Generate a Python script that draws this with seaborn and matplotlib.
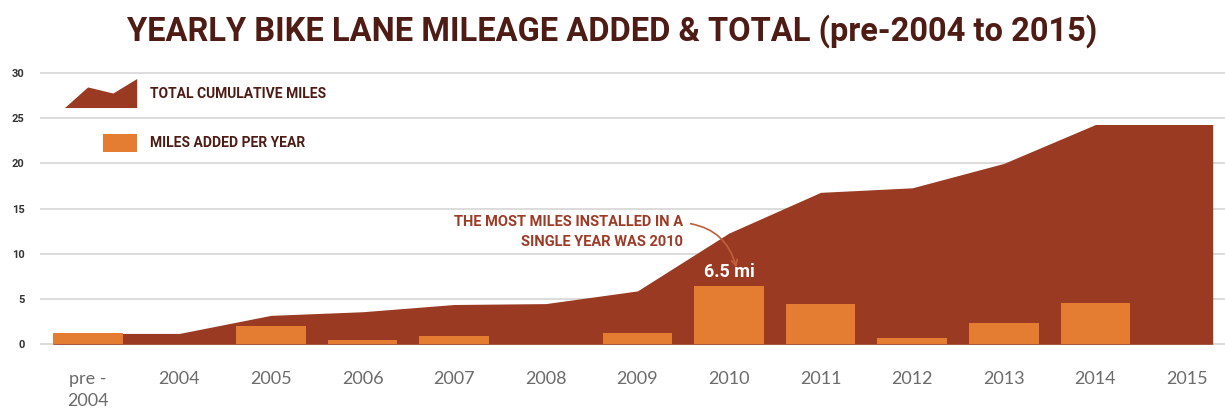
import numpy as np
import matplotlib
matplotlib.use("Agg")
import matplotlib.pyplot as plt
from matplotlib.patches import Polygon, Rectangle
from matplotlib.legend_handler import HandlerBase
import seaborn as sns

years = ["pre -\n2004", "2004", "2005", "2006", "2007", "2008", "2009",
         "2010", "2011", "2012", "2013", "2014", "2015"]
added = [1.2, 0.0, 2.0, 0.45, 0.95, 0.0, 1.3, 6.5, 4.5, 0.7, 2.4, 4.6, 0.0]
total = [1.2, 1.2, 3.2, 3.6, 4.4, 4.5, 5.9, 12.3, 16.8, 17.3, 20.0, 24.3, 24.3]
y_ticks = [0, 5, 10, 15, 20, 25, 30]

AREA = "#9b3a22"
BAR = "#e47d32"
DARK = "#4e1c14"
NOTE = "#9e3b27"
NARROW = ["Roboto", "DejaVu Sans"]


class MountainHandler(HandlerBase):
    def create_artists(self, legend, orig_handle, xd, yd, w, h, fs, trans):
        pts = [(0, 0), (0.32, 0.71), (0.67, 0.5), (1, 1), (1, 0)]
        poly = Polygon([(-xd + px * w, -yd + py * h) for px, py in pts],
                       closed=True, facecolor=AREA, edgecolor="none",
                       transform=trans)
        return [poly]


class SquareHandler(HandlerBase):
    def create_artists(self, legend, orig_handle, xd, yd, w, h, fs, trans):
        sw, sh = 0.47 * w, 0.62 * h
        rect = Rectangle((-xd + w - sw, -yd + (h - sh) / 2), sw, sh,
                         facecolor=BAR, edgecolor="none", transform=trans)
        return [rect]


def main():
    sns.set_style("white")
    fig = plt.figure(figsize=(12.25, 4.16), dpi=100)
    ax = fig.add_axes([0.0327, 0.168, 0.967, 0.661])

    pos = np.arange(len(years))
    # area reaches out to the edges of the first and last bars
    area_x = np.concatenate([[pos[0] - 0.38], pos, [pos[-1] + 0.28]])
    area_y = np.concatenate([[total[0]], total, [total[-1]]])
    ax.fill_between(area_x, 0, area_y, color=AREA, lw=0, zorder=2)

    sns.barplot(x=years, y=added, color=BAR, width=0.76, saturation=1,
                linewidth=0, edgecolor="none", ax=ax, zorder=3)

    for t in y_ticks:
        ax.axhline(t, color="#dcdcdc", lw=1.4, zorder=1)

    ax.set_xlim(-0.52, 12.41)
    ax.set_ylim(-0.2, 30.2)
    ax.set_yticks(y_ticks)
    sns.despine(ax=ax, left=True, bottom=True)
    ax.tick_params(axis="x", length=0, pad=18, labelsize=13, colors="#6b6b6b")
    ax.tick_params(axis="y", length=0, pad=11, labelsize=8, colors="#333333")
    for lab in ax.get_xticklabels():
        lab.set_family(["Lato", "DejaVu Sans"])
        lab.set_linespacing(1.45)
    for lab in ax.get_yticklabels():
        lab.set_family(NARROW)
        lab.set_fontweight("bold")

    peak = int(np.argmax(added))
    ax.text(pos[peak], added[peak] + 0.45, f"{added[peak]} mi", color="white",
            ha="center", va="bottom", fontsize=13, fontweight="bold",
            family=NARROW, zorder=4)
    ax.annotate("THE MOST MILES INSTALLED IN A\nSINGLE YEAR WAS 2010",
                xy=(pos[peak] + 0.08, added[peak] + 2.0), xytext=(6.5, 12.4),
                ha="right", va="center", multialignment="right",
                fontsize=10.5, fontweight="bold", family=NARROW, color=NOTE,
                linespacing=1.5, zorder=5,
                arrowprops=dict(arrowstyle="->", color="#c0603a", lw=1.2,
                                shrinkA=3, shrinkB=0, relpos=(1.0, 0.78),
                                connectionstyle="arc3,rad=-0.35"))

    handles = [Rectangle((0, 0), 1, 1), Rectangle((0, 0), 1, 1)]
    leg = ax.legend(handles, ["TOTAL CUMULATIVE MILES", "MILES ADDED PER YEAR"],
                    handler_map={handles[0]: MountainHandler(),
                                 handles[1]: SquareHandler()},
                    loc="upper left", bbox_to_anchor=(65 / 1225, 1 - 79 / 416),
                    bbox_transform=fig.transFigure, frameon=False,
                    fontsize=10, handlelength=5.2, handleheight=2.84,
                    handletextpad=0.94, labelspacing=1.47, borderpad=0,
                    borderaxespad=0)
    for txt in leg.get_texts():
        txt.set_color(DARK)
        txt.set_fontweight("bold")
        txt.set_family(NARROW)

    fig.text(0.5, 0.925, "YEARLY BIKE LANE MILEAGE ADDED & TOTAL (pre-2004 to 2015)",
             ha="center", va="center", fontsize=23.5, fontweight="bold",
             family=NARROW, color=DARK)

    fig.savefig("out.png", dpi=100, facecolor="white")


if __name__ == "__main__":
    main()
